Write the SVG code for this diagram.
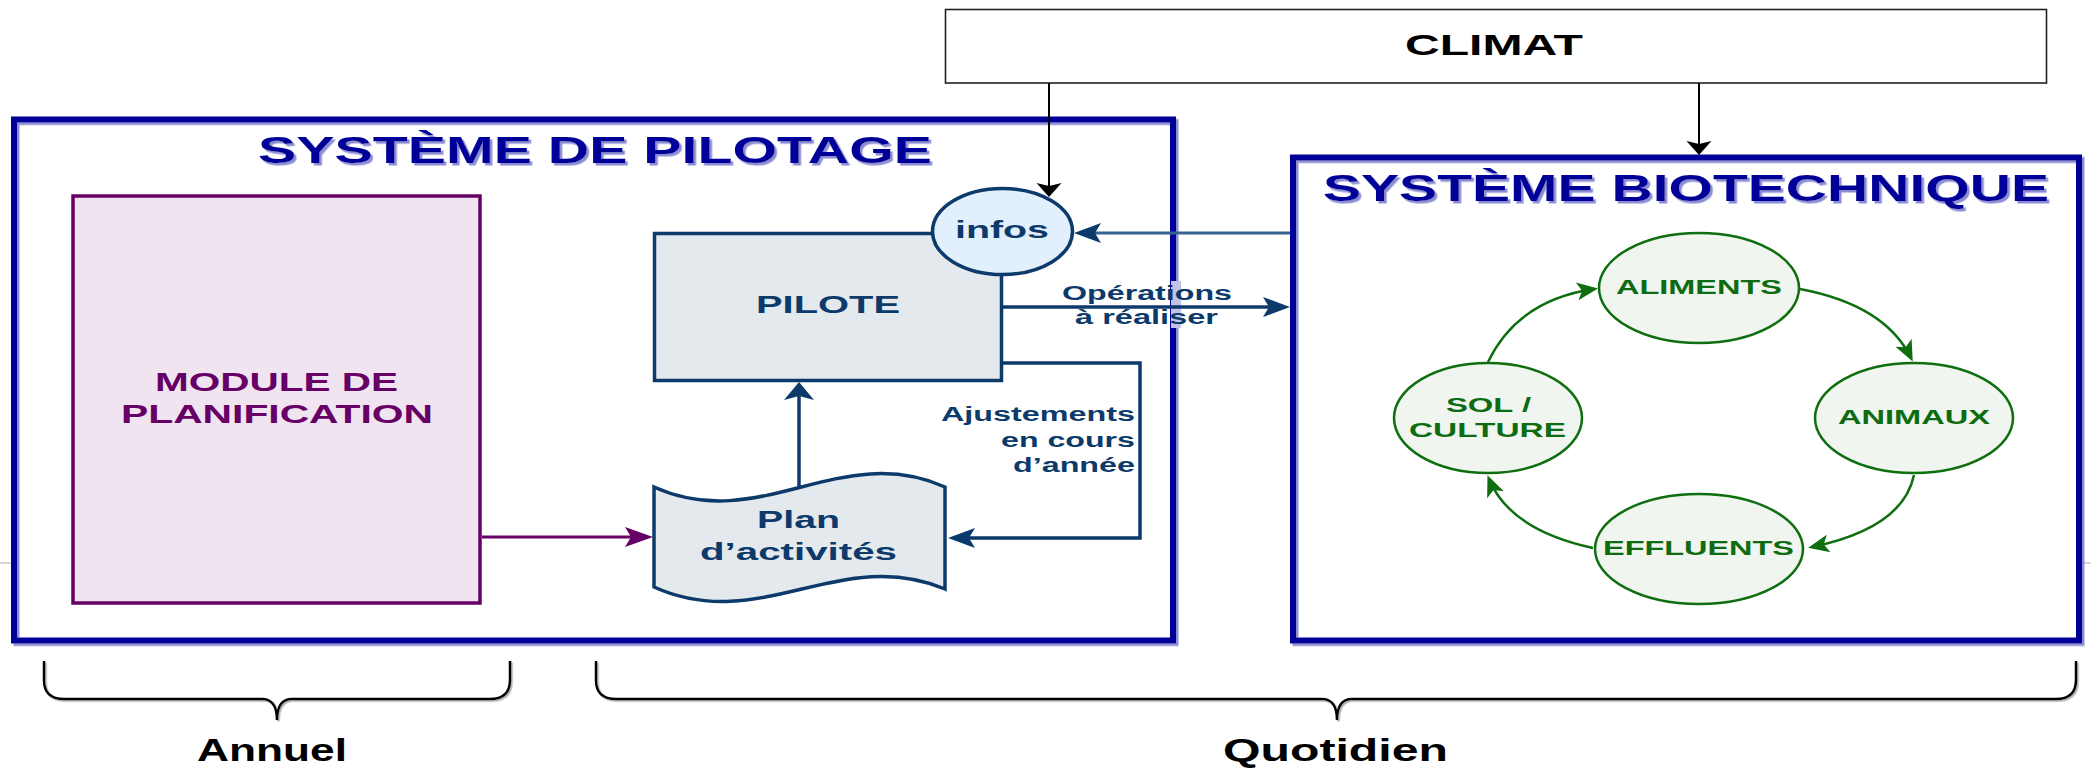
<svg xmlns="http://www.w3.org/2000/svg" width="2091" height="768" viewBox="0 0 2091 768">
<style>
text{font-family:"Liberation Sans",Arial,sans-serif;font-weight:bold}
.title{fill:#000099;font-size:36px}
.navy{fill:#0c3a6a}
.green{fill:#0d6b12;font-size:19.5px}
.lbl{fill:#0c3a6a;font-size:19.5px}
.frame{fill:none;stroke:#000099;stroke-width:6}
.c-navy{fill:none;stroke:#0c3a6a;stroke-width:3.5}
.c-green{fill:none;stroke:#0f6e0f;stroke-width:2.5}
.brace{fill:none;stroke:#000;stroke-width:2.5}
</style>
<defs>
<filter id="sh" x="-5%" y="-5%" width="110%" height="115%">
<feDropShadow dx="2.5" dy="2.5" stdDeviation="0.3" flood-color="#8c8cd4" flood-opacity="1"/>
</filter>
<filter id="shb" x="-5%" y="-5%" width="110%" height="120%">
<feDropShadow dx="1.5" dy="1.5" stdDeviation="0.5" flood-color="#999" flood-opacity="0.8"/>
</filter>
<marker id="an" viewBox="-30 -16 40 32" markerWidth="40" markerHeight="32" refX="0" refY="0" orient="auto" markerUnits="userSpaceOnUse">
<path d="M6,0 L-21,-10 L-15,0 L-21,10 Z" fill="#0c3a6a"/>
</marker>
<marker id="au" viewBox="-30 -20 40 40" markerWidth="40" markerHeight="40" refX="0" refY="0" orient="auto" markerUnits="userSpaceOnUse">
<path d="M6,0 L-12,-15 L-8,0 L-12,15 Z" fill="#0c3a6a"/>
</marker>
<marker id="ab" viewBox="-20 -16 30 32" markerWidth="30" markerHeight="32" refX="0" refY="0" orient="auto" markerUnits="userSpaceOnUse">
<path d="M5,0 L-9,-12.5 L-6,0 L-9,12.5 Z" fill="#000"/>
</marker>
<marker id="ap" viewBox="-30 -16 40 32" markerWidth="40" markerHeight="32" refX="0" refY="0" orient="auto" markerUnits="userSpaceOnUse">
<path d="M5,0 L-23,-10 L-17,0 L-23,10 Z" fill="#660066"/>
</marker>
<marker id="ag" viewBox="-24 -14 32 28" markerWidth="32" markerHeight="28" refX="0" refY="0" orient="auto" markerUnits="userSpaceOnUse">
<path d="M4,0 L-17,-9 L-12,0 L-17,9 Z" fill="#0f6e0f"/>
</marker>
</defs>
<rect width="2091" height="768" fill="#fff"/>
<line x1="0" y1="563" x2="11" y2="563" stroke="#d4d4d4" stroke-width="2"/>
<line x1="2083" y1="563" x2="2091" y2="563" stroke="#d4d4d4" stroke-width="2"/>

<g id="climat">
<rect x="945.5" y="9.5" width="1101" height="73.5" fill="#fff" stroke="#222" stroke-width="1.6"/>
<text x="1405" y="55" font-size="30" fill="#000" textLength="178" lengthAdjust="spacingAndGlyphs">CLIMAT</text>
</g>

<g id="systeme-pilotage">
<rect class="frame" x="14" y="119.5" width="1159" height="521" filter="url(#sh)"/>
<text class="title" x="258" y="163" textLength="674" lengthAdjust="spacingAndGlyphs" filter="url(#sh)">SYSTÈME DE PILOTAGE</text>
</g>

<g id="systeme-biotechnique">
<rect class="frame" x="1293" y="157.5" width="786" height="483" filter="url(#sh)"/>
<text class="title" x="1323" y="201" textLength="726" lengthAdjust="spacingAndGlyphs" filter="url(#sh)">SYSTÈME BIOTECHNIQUE</text>
</g>

<g id="connectors">
<path d="M1049,83 L1049,192" fill="none" stroke="#000" stroke-width="2" marker-end="url(#ab)"/>
<path d="M1699,83 L1699,150" fill="none" stroke="#000" stroke-width="2" marker-end="url(#ab)"/>
<path d="M1290,233 L1080,233" fill="none" stroke="#35628f" stroke-width="3" marker-end="url(#an)"/>
<rect x="1171" y="281" width="10" height="47" fill="#c6c1e8"/>
<path d="M1003,307 L1284,307" class="c-navy" stroke-width="3" marker-end="url(#an)"/>
<path d="M1003,363 L1140,363 L1140,538 L954,538" class="c-navy" stroke-width="4" marker-end="url(#an)"/>
<path d="M799,486 L799,388" class="c-navy" stroke-width="4" marker-end="url(#au)"/>
<path d="M482,537 L648,537" fill="none" stroke="#660066" stroke-width="3" marker-end="url(#ap)"/>
<path d="M1488,362 Q1518,300 1594,289" class="c-green" marker-end="url(#ag)"/>
<path d="M1800,289 Q1885,305 1911,358" class="c-green" marker-end="url(#ag)"/>
<path d="M1914,475 Q1903,528 1812,547" class="c-green" marker-end="url(#ag)"/>
<path d="M1593,548 Q1510,530 1489,479" class="c-green" marker-end="url(#ag)"/>
</g>

<g id="label-operations">
<text class="lbl" x="1062" y="300" textLength="170" lengthAdjust="spacingAndGlyphs">Opérations</text>
<text class="lbl" x="1075" y="324" textLength="143" lengthAdjust="spacingAndGlyphs">à réaliser</text>
</g>
<g id="label-ajustements">
<text class="lbl" x="941" y="421" textLength="194" lengthAdjust="spacingAndGlyphs">Ajustements</text>
<text class="lbl" x="1001" y="447" textLength="134" lengthAdjust="spacingAndGlyphs">en cours</text>
<text class="lbl" x="1013" y="472" textLength="122" lengthAdjust="spacingAndGlyphs">d’année</text>
</g>

<g id="module-planification">
<rect x="73" y="196" width="407" height="407" fill="#efe4ef" stroke="#660066" stroke-width="3.5"/>
<text x="155" y="391" font-size="25" fill="#660066" textLength="243" lengthAdjust="spacingAndGlyphs">MODULE DE</text>
<text x="121" y="423" font-size="25" fill="#660066" textLength="312" lengthAdjust="spacingAndGlyphs">PLANIFICATION</text>
</g>

<g id="pilote">
<rect x="654.5" y="233.5" width="347" height="147" fill="#e4e9ee" stroke="#0c3a6a" stroke-width="3.5"/>
<text class="navy" x="756" y="313" font-size="24" textLength="144" lengthAdjust="spacingAndGlyphs">PILOTE</text>
</g>

<g id="infos">
<ellipse cx="1002.5" cy="231.5" rx="70" ry="43" fill="#e2effc" stroke="#0c3a6a" stroke-width="3.5"/>
<text class="navy" x="955" y="238" font-size="24" textLength="94" lengthAdjust="spacingAndGlyphs">infos</text>
</g>

<g id="plan-activites">
<path d="M654,487 C760,535 840,440 945,487 L945,589 C840,545 760,635 654,587 Z" fill="#e4e9ee" stroke="#0c3a6a" stroke-width="3.5"/>
<text class="navy" x="757" y="528" font-size="23" textLength="83" lengthAdjust="spacingAndGlyphs">Plan</text>
<text class="navy" x="700" y="560" font-size="23" textLength="197" lengthAdjust="spacingAndGlyphs">d’activités</text>
</g>

<g id="aliments">
<ellipse cx="1699" cy="288" rx="100" ry="55" fill="#f0f5ef" stroke="#0f6e0f" stroke-width="2.5"/>
<text class="green" x="1616" y="294" textLength="166" lengthAdjust="spacingAndGlyphs">ALIMENTS</text>
</g>
<g id="animaux">
<ellipse cx="1914" cy="418" rx="99" ry="55" fill="#f0f5ef" stroke="#0f6e0f" stroke-width="2.5"/>
<text class="green" x="1838" y="424" textLength="152" lengthAdjust="spacingAndGlyphs">ANIMAUX</text>
</g>
<g id="effluents">
<ellipse cx="1699" cy="549" rx="104" ry="55" fill="#f0f5ef" stroke="#0f6e0f" stroke-width="2.5"/>
<text class="green" x="1603" y="555" textLength="191" lengthAdjust="spacingAndGlyphs">EFFLUENTS</text>
</g>
<g id="sol-culture">
<ellipse cx="1488" cy="418" rx="94" ry="55" fill="#f0f5ef" stroke="#0f6e0f" stroke-width="2.5"/>
<text class="green" x="1446" y="412" textLength="85" lengthAdjust="spacingAndGlyphs">SOL /</text>
<text class="green" x="1409" y="437" textLength="157" lengthAdjust="spacingAndGlyphs">CULTURE</text>
</g>

<g id="annuel">
<path class="brace" filter="url(#shb)" d="M44,661 L44,680 Q44,699 64,699 L262,699 Q277,699 277,720 Q277,699 292,699 L490,699 Q510,699 510,680 L510,661"/>
<text x="197" y="761" font-size="31" fill="#000" textLength="150" lengthAdjust="spacingAndGlyphs">Annuel</text>
</g>
<g id="quotidien">
<path class="brace" filter="url(#shb)" d="M596,661 L596,680 Q596,699 616,699 L1322,699 Q1337,699 1337,720 Q1337,699 1352,699 L2056,699 Q2076,699 2076,680 L2076,661"/>
<text x="1223" y="761" font-size="31" fill="#000" textLength="225" lengthAdjust="spacingAndGlyphs">Quotidien</text>
</g>
</svg>
